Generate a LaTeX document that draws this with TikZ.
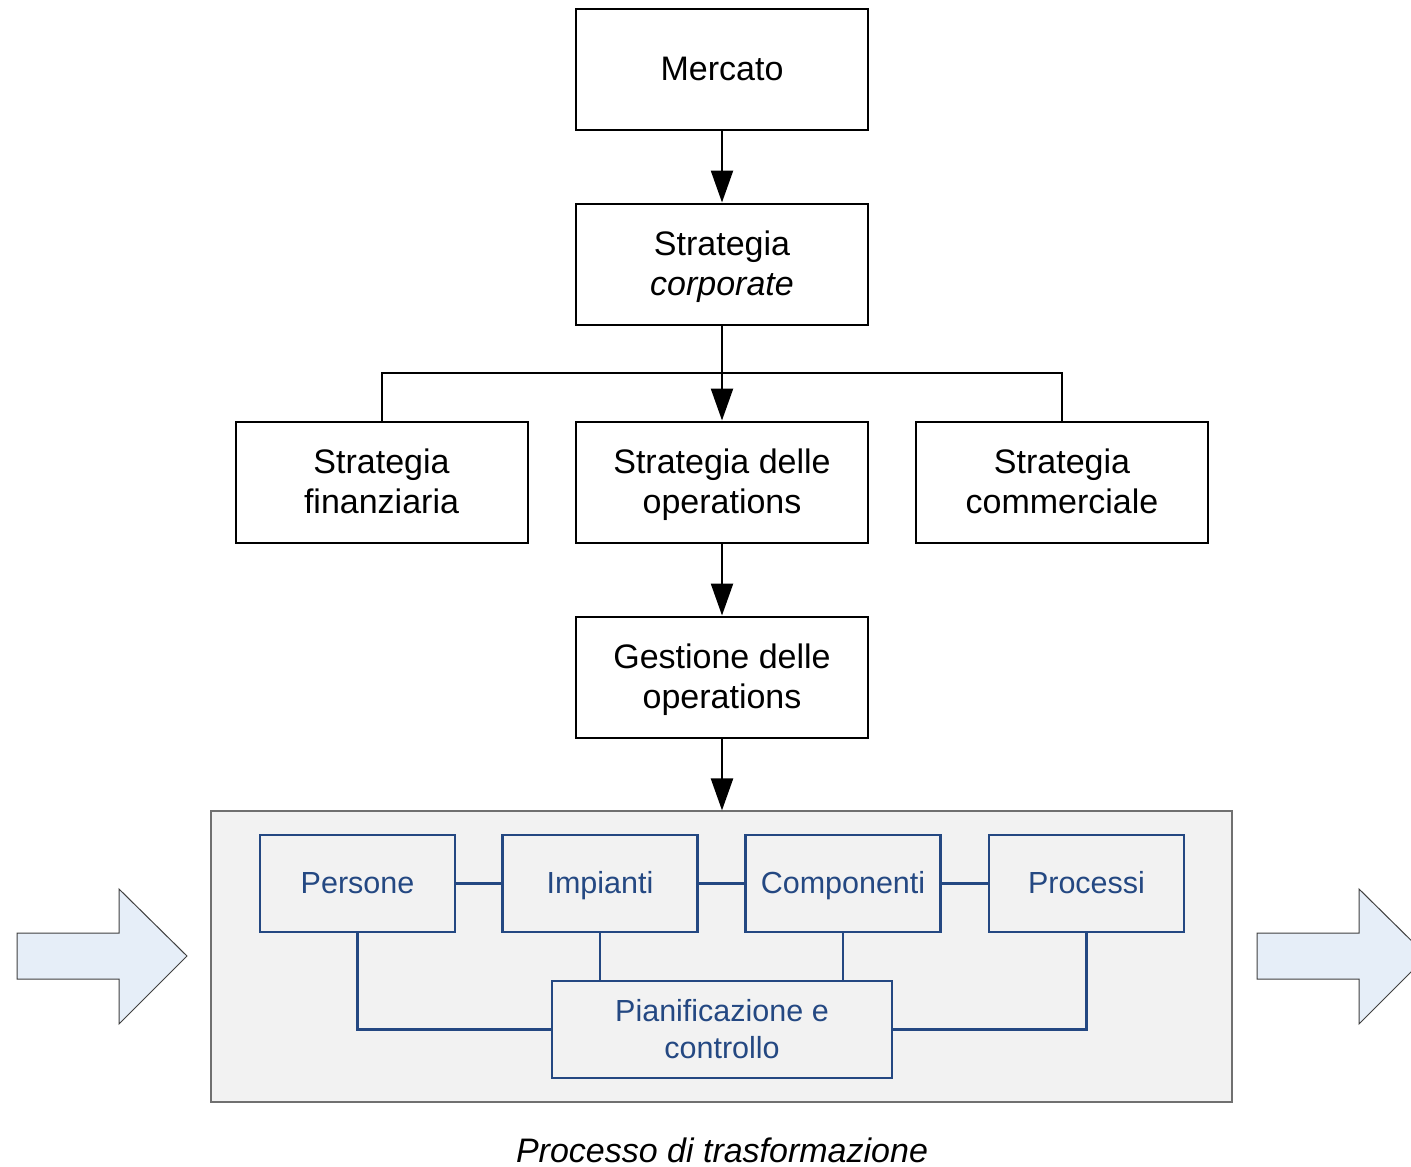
\documentclass[tikz,border=0pt]{standalone}
\usepackage{fontspec}
\setmainfont{Liberation Sans}
\usetikzlibrary{arrows.meta}
\definecolor{boxblue}{RGB}{36,72,130}
\definecolor{contfill}{RGB}{242,242,242}
\definecolor{contdraw}{RGB}{112,112,112}
\definecolor{arrfill}{RGB}{230,238,248}
\definecolor{arrdraw}{RGB}{64,64,64}
\newcommand{\myline}[1]{#1\rule[-0.25em]{0pt}{1.17em}}
\tikzset{
  blackbox/.style={draw=black, line width=2pt, fill=white, minimum width=292pt, minimum height=121pt, align=center, inner sep=0pt, font=\fontsize{34}{40}\selectfont},
  bluebox/.style={draw=boxblue, line width=2.4pt, fill=contfill, minimum width=195pt, minimum height=97pt, align=center, inner sep=0pt, text=boxblue, font=\fontsize{30.5}{37}\selectfont},
  blueline/.style={draw=boxblue, line width=2.4pt},
  arr/.style={line width=2.4pt, -{Triangle[width=22pt,length=32pt]}},
  plainline/.style={line width=2pt},
  bigarrow/.style={fill=arrfill, draw=arrdraw, line width=1pt, line join=miter},
}
\begin{document}
\begin{tikzpicture}[x=1pt,y=-1pt]
\useasboundingbox (0,0) rectangle (1411,1167);
\clip (0,0) rectangle (1411,1167);
\node[blackbox] (merc) at (722,69.5) {\myline{Mercato}};
\node[blackbox] (corp) at (722,264) {\myline{Strategia}\\\myline{\textit{corporate}}};
\node[blackbox] (fin) at (381.5,482) {\myline{Strategia}\\\myline{finanziaria}};
\node[blackbox] (ops) at (722,482) {\myline{Strategia delle}\\\myline{operations}};
\node[blackbox] (comm) at (1062,482) {\myline{Strategia}\\\myline{commerciale}};
\node[blackbox] (gest) at (722,677) {\myline{Gestione delle}\\\myline{operations}};
\coordinate (br) at (722,373);
\draw[plainline] (fin.north) -- (fin.north |- br) -- (comm.north |- br) -- (comm.north);
\draw[arr] (merc) -- (corp);
\draw[arr] (corp) -- (ops);
\draw[arr] (ops) -- (gest);
\node[draw=contdraw, line width=1.2pt, fill=contfill, minimum width=1021pt, minimum height=291pt, inner sep=0pt] (cont) at (721.5,956.5) {};
\draw[arr] (gest.south) -- (gest.south |- cont.north);
\node[bluebox] (pers) at (357.5,883.5) {\myline{Persone}};
\node[bluebox] (imp) at (600,883.5) {\myline{Impianti}};
\node[bluebox] (comp) at (843,883.5) {\myline{Componenti}};
\node[bluebox] (proc) at (1086.5,883.5) {\myline{Processi}};
\node[bluebox, minimum width=340pt] (pian) at (722,1029.5) {\myline{Pianificazione e}\\\myline{controllo}};
\draw[blueline] (pers) -- (imp);
\draw[blueline] (imp) -- (comp);
\draw[blueline] (comp) -- (proc);
\draw[blueline] (imp.south) -- (imp.south |- pian.north);
\draw[blueline] (comp.south) -- (comp.south |- pian.north);
\draw[blueline] (pers.south) |- (pian.west);
\draw[blueline] (proc.south) |- (pian.east);
\draw[bigarrow] (17,933) -- (119,933) -- (119,889) -- (187,956) -- (119,1024) -- (119,979) -- (17,979) -- cycle;
\draw[bigarrow] (1257,933) -- (1359,933) -- (1359,889) -- (1427,956) -- (1359,1024) -- (1359,979) -- (1257,979) -- cycle;
\node[font=\fontsize{34}{40}\selectfont\itshape, inner sep=0pt] (cap) at (722,1150) {Processo di trasformazione};
\end{tikzpicture}
\end{document}
